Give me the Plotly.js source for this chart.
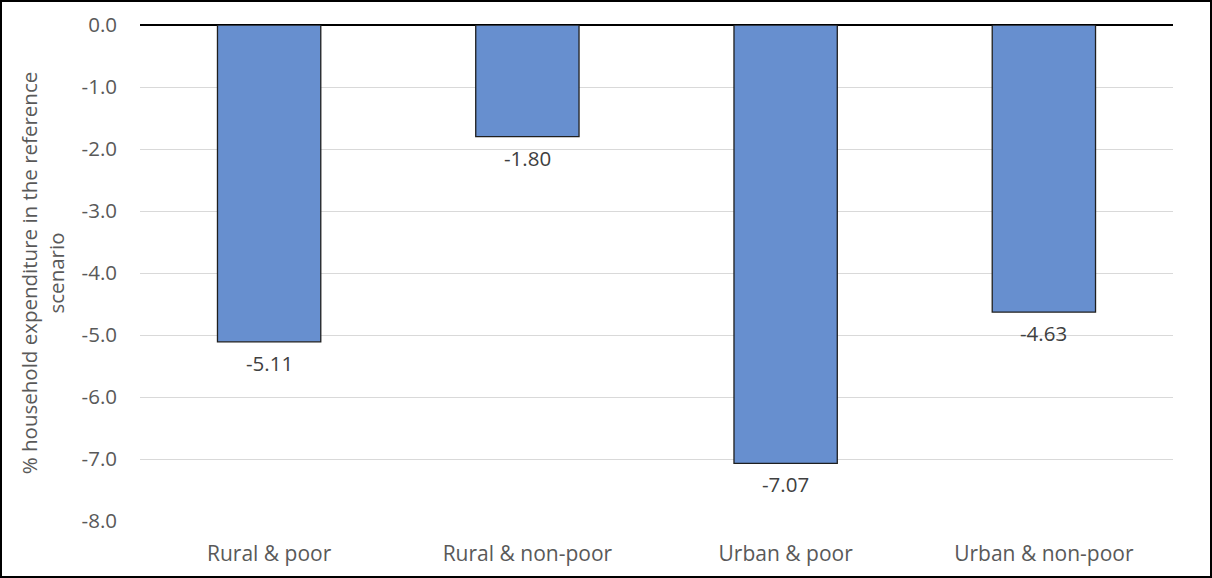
<!DOCTYPE html>
<html>
<head>
<meta charset="utf-8">
<script src="https://cdn.plot.ly/plotly-3.0.1.min.js"></script>
<style>
  html, body { margin: 0; padding: 0; background: #fff; }
  #chart { width: 1212px; height: 578px; border: 2px solid #000; box-sizing: border-box; }
</style>
</head>
<body>
<div id="chart"></div>
<script>
// Household groups and the change in their expenditure (%)
const categories = ['Rural & poor', 'Rural & non-poor', 'Urban & poor', 'Urban & non-poor'];
const changePct = [-5.11, -1.80, -7.07, -4.63];
const yTickVals = [0, -1, -2, -3, -4, -5, -6, -7, -8];
const yTickText = ['0.0', '-1.0', '-2.0', '-3.0', '-4.0', '-5.0', '-6.0', '-7.0', '-8.0'];

const FONT = '"Open Sans", Lato, sans-serif';
const AXIS_GREY = '#595959';
const SIZE = 20.5;

const bars = {
  type: 'bar',
  x: categories,
  y: changePct,
  width: 0.4,
  marker: { color: '#678fcf', line: { color: '#1f1f1f', width: 1.3 } },
  hoverinfo: 'skip'
};

// value labels under each bar
const labels = categories.map((c, i) => ({
  x: c, y: changePct[i], xref: 'x', yref: 'y',
  text: changePct[i].toFixed(2),
  showarrow: false, yanchor: 'top', yshift: -5,
  font: { family: FONT, size: SIZE, color: '#404040' }
}));

const layout = {
  width: 1208, height: 574,
  margin: { l: 138, r: 37, t: 23, b: 55 },
  paper_bgcolor: '#fff', plot_bgcolor: '#fff',
  showlegend: false,
  bargap: 0.6,
  font: { family: FONT, size: SIZE, color: AXIS_GREY },
  xaxis: {
    type: 'category',
    showgrid: false, zeroline: false, showline: false, ticks: '',
    ticklabelstandoff: 18,
    tickfont: { family: FONT, size: SIZE + 0.5, color: AXIS_GREY },
    fixedrange: true
  },
  yaxis: {
    range: [-8, 0],
    tickvals: yTickVals, ticktext: yTickText,
    showgrid: true, gridcolor: '#d9d9d9', gridwidth: 1,
    zeroline: true, zerolinecolor: '#000', zerolinewidth: 1.5,
    showline: false, ticks: '',
    ticklabelstandoff: 22,
    tickfont: { family: FONT, size: SIZE, color: AXIS_GREY },
    title: {
      text: '% household expenditure in the reference<br>scenario',
      font: { family: FONT, size: SIZE, color: AXIS_GREY },
      standoff: 11
    },
    fixedrange: true
  },
  annotations: labels
};

Plotly.newPlot('chart', [bars], layout, { displayModeBar: false, staticPlot: true });
</script>
</body>
</html>
